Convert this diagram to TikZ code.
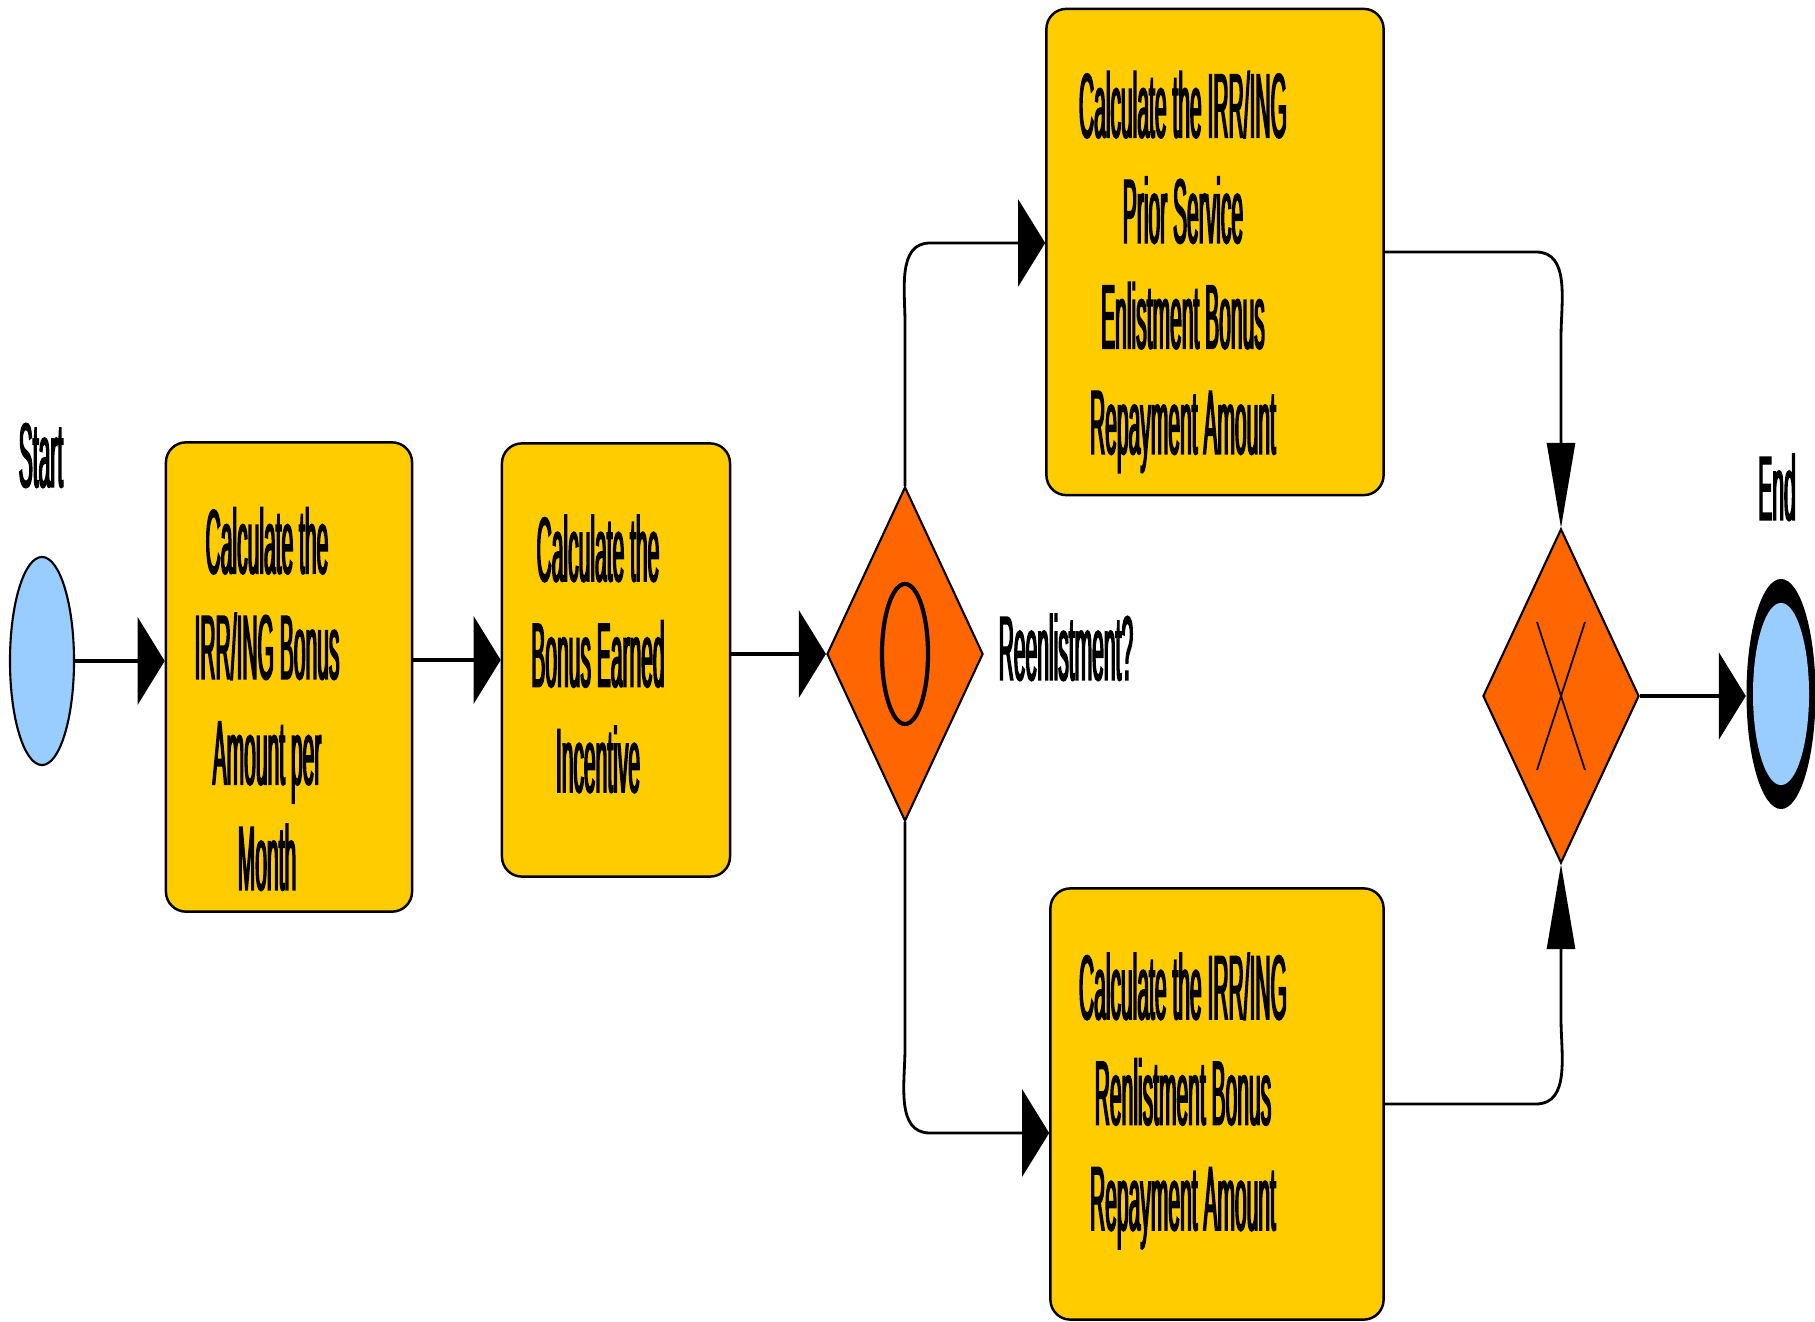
\documentclass[tikz,border=0pt]{standalone}
\usepackage{fontspec}
\setmainfont{Liberation Sans}[FakeStretch=0.23, FakeBold=1.5]
\usetikzlibrary{shapes.geometric,arrows.meta,calc}

\definecolor{evBlue}{HTML}{99CCFF}
\definecolor{taskYellow}{HTML}{FFCC00}
\definecolor{gwOrange}{HTML}{FF6600}
\newcommand\boxfont{\fontsize{26}{30}\selectfont}

\begin{document}
\begin{tikzpicture}[
    x=0.01cm, y=-0.01cm,
    task/.style={draw, rounded corners=0.2cm, fill=taskYellow, line width=0.7pt,
        inner sep=0pt},
    gate/.style={diamond, draw, fill=gwOrange, line width=0.6pt,
        minimum width=1.56cm, minimum height=3.34cm, inner sep=0pt},
    event/.style={ellipse, draw, fill=evBlue, line width=0.6pt,
        minimum width=0.64cm, minimum height=2.08cm, inner sep=0pt},
    endev/.style={ellipse, fill=black,
        minimum width=0.69cm, minimum height=2.30cm, inner sep=0pt},
    lbl/.style={font=\boxfont, inner sep=0pt},
    txt/.style={lbl, align=center},
    flow/.style={line width=1.1pt, -{Triangle[length=0.27cm, width=0.87cm]}},
    bflow/.style={line width=0.8pt, -{Triangle[length=0.27cm, width=0.87cm]}},
    vflow/.style={line width=0.8pt, -{Triangle[length=0.85cm, width=0.28cm]}},
]
\useasboundingbox (0,0) rectangle (1815,1322);

% Start event
\node[event] (start) at (42,661) {};
\node[lbl, anchor=base] (startlbl) at (41,487) {Start};

% First two tasks
\node[task, minimum width=2.46cm, minimum height=4.69cm] (calcMonth) at (289,677) {};
\node[txt] (calcMonthTxt) at ([xshift=-0.22cm, yshift=-0.22cm]calcMonth.center)
    {Calculate the\\IRR/ING Bonus\\Amount per\\Month};
\node[task, minimum width=2.28cm, minimum height=4.33cm] (calcEarned) at (616,660) {};
\node[txt] (calcEarnedTxt) at ([xshift=-0.18cm, yshift=0.06cm]calcEarned.center)
    {Calculate the\\Bonus Earned\\Incentive};

% Split gateway (inclusive)
\node[gate] (split) at (905,654) {};
\draw[line width=1.2pt] (split.center) ellipse [x radius=0.23cm, y radius=0.70cm];
\node[lbl, anchor=base west] (splitlbl) at (998,680) {Reenlistment?};

% Branch tasks
\node[task, minimum width=3.37cm, minimum height=4.86cm] (calcPrior) at (1215,252) {};
\node[txt] (calcPriorTxt) at ([xshift=-0.32cm, yshift=-0.2cm]calcPrior.center)
    {Calculate the IRR/ING\\Prior Service\\Enlistment Bonus\\Repayment Amount};
\node[task, minimum width=3.33cm, minimum height=4.31cm] (calcReen) at (1217,1104) {};
\node[txt] (calcReenTxt) at ([xshift=-0.34cm, yshift=0.03cm]calcReen.center)
    {Calculate the IRR/ING\\Renlistment Bonus\\Repayment Amount};
\coordinate (priorIn) at ([yshift=0.09cm]calcPrior.west);
\coordinate (reenIn) at ([yshift=-0.29cm]calcReen.west);

% Merge gateway (exclusive)
\node[gate] (merge) at (1561,696) {};
\draw[line width=0.5pt] (merge.center) ++(-24,-74) -- ++(48,148)
    ++(0,-148) -- ++(-48,148);

% End event
\node[endev] (finish) at (1781,694) {};
\fill[evBlue] (finish.center) ellipse [x radius=0.28cm, y radius=0.91cm];
\node[lbl, anchor=base] (finishlbl) at (1777,520) {End};

% Sequence flows
\draw[flow] (start.east) -- (start.east -| calcMonth.west);
\draw[flow] (calcMonth.east |- calcEarned.west) -- (calcEarned.west);
\draw[flow] (calcEarned.east |- split.west) -- (split.west);

\draw[bflow] (split.north) -- ([yshift=-0.8cm]split.north |- priorIn)
    to[out=90, in=180] ([xshift=0.25cm]split.north |- priorIn) -- (priorIn);
\draw[bflow] (split.south) -- ([yshift=0.85cm]split.south |- reenIn)
    to[out=-90, in=180] ([xshift=0.25cm]split.south |- reenIn) -- (reenIn);

\draw[vflow] (calcPrior.east) -- ([xshift=-0.25cm]calcPrior.east -| merge.north)
    to[out=0, in=90] ([yshift=-0.85cm]calcPrior.east -| merge.north) -- (merge.north);
\draw[vflow] (calcReen.east) -- ([xshift=-0.25cm]calcReen.east -| merge.south)
    to[out=0, in=-90] ([yshift=0.85cm]calcReen.east -| merge.south) -- (merge.south);

\draw[flow] (merge.east) -- (merge.east -| finish.west);

\end{tikzpicture}
\end{document}
